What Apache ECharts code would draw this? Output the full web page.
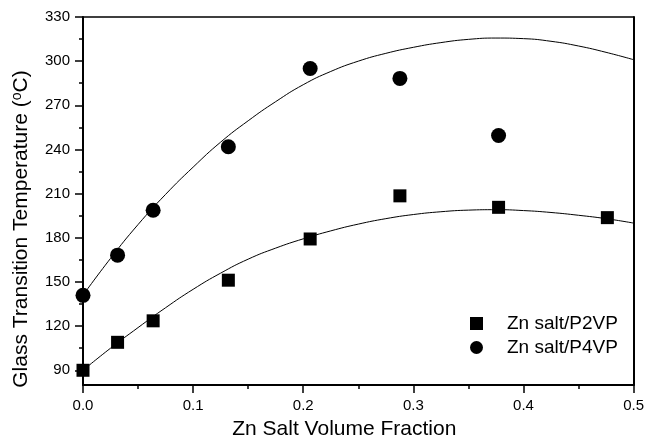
<!DOCTYPE html>
<html>
<head>
<meta charset="utf-8">
<script src="https://cdn.jsdelivr.net/npm/echarts@6/dist/echarts.min.js"></script>
<style>html,body{margin:0;padding:0;background:#fff}#c{width:647px;height:445px}</style>
</head>
<body>
<div id="c"></div>
<script>
// Measured points
const fracP2VP = [0, 0.0314, 0.0637, 0.132, 0.2063, 0.2878, 0.3774, 0.4762];
const tgP2VP = [90, 109, 123.6, 151.2, 179.2, 208.5, 200.7, 193.7];
const fracP4VP = [0, 0.0314, 0.0637, 0.132, 0.2063, 0.2878, 0.3774];
const tgP4VP = [140.9, 168.2, 198.7, 241.9, 295, 288.3, 249.5];
// Fit curves
const fitX = [0, 0.025, 0.05, 0.075, 0.1, 0.125, 0.15, 0.175, 0.2, 0.225, 0.25, 0.275, 0.3, 0.325, 0.35, 0.375, 0.4, 0.425, 0.45, 0.475, 0.5];
const fitYP2VP = [90, 105, 119, 132.5, 145, 156, 165.5, 173, 179.3, 184.7, 189.3, 193, 195.8, 197.7, 198.8, 199.1, 198.5, 197.2, 195.3, 193, 190];
const fitYP4VP = [141, 166, 189, 209.5, 228, 245, 259.5, 272.5, 284, 293, 300, 305.3, 309.4, 312.6, 314.8, 315.7, 315.3, 313.5, 310.3, 306, 301];
// Axis ticks
const yLabelValues = [90, 120, 150, 180, 210, 240, 270, 300, 330];
const yMinorValues = [105, 135, 165, 195, 225, 255, 285, 315];
const seriesNames = ['Zn salt/P2VP', 'Zn salt/P4VP'];

const zip = (xs, ys) => xs.map((x, i) => [x, ys[i]]);
const FONT = 'Liberation Sans, Arial, sans-serif';
const chart = echarts.init(document.getElementById('c'), null, {renderer: 'canvas'});
chart.setOption({
  backgroundColor: '#fff',
  animation: false,
  grid: {left: 83, right: 12, top: 17, bottom: 57},
  legend: {
    orient: 'vertical', left: 465, top: 309,
    data: [{name: seriesNames[0], icon: 'rect'}, {name: seriesNames[1], icon: 'circle'}],
    itemWidth: 13, itemHeight: 13, itemGap: 5,
    itemStyle: {color: '#000', opacity: 1},
    textStyle: {fontFamily: FONT, fontSize: 19, color: '#000', padding: [0, 0, 0, 19]}
  },
  xAxis: [{
    type: 'value', position: 'bottom', min: 0, max: 0.5, interval: 0.1,
    name: 'Zn Salt Volume Fraction', nameLocation: 'middle', nameGap: 34,
    nameTextStyle: {fontFamily: FONT, fontSize: 21, color: '#000', padding: [0, 28, 0, 0]},
    axisLine: {lineStyle: {color: '#000', width: 2}},
    axisTick: {inside: false, length: 8, lineStyle: {color: '#000', width: 1.5}},
    minorTick: {show: true, splitNumber: 2, length: 4, lineStyle: {color: '#000', width: 1.5}},
    axisLabel: {fontFamily: FONT, fontSize: 15, color: '#000', margin: 13, formatter: v => v.toFixed(1)},
    splitLine: {show: false}
  }, {
    type: 'value', position: 'top', min: 0, max: 0.5,
    axisLine: {show: true, lineStyle: {color: '#000', width: 1.5}},
    axisTick: {show: false}, axisLabel: {show: false}, splitLine: {show: false}
  }],
  yAxis: [{
    type: 'value', position: 'left', min: 80, max: 330,
    name: 'Glass Transition Temperature ({sup|o}C)', nameLocation: 'middle', nameGap: 51, nameRotate: 90,
    nameTextStyle: {fontFamily: FONT, fontSize: 21, color: '#000', padding: [0, 56, 0, 0],
      rich: {sup: {fontFamily: FONT, fontSize: 14, color: '#000', verticalAlign: 'top', padding: [0, 0, 8, 0]}}},
    axisLine: {show: true, lineStyle: {color: '#000', width: 2}},
    axisTick: {show: true, inside: false, length: 8, customValues: yLabelValues, lineStyle: {color: '#000', width: 1.5}},
    axisLabel: {fontFamily: FONT, fontSize: 15, color: '#000', margin: 13, customValues: yLabelValues},
    splitLine: {show: false}
  }, {
    type: 'value', position: 'left', min: 80, max: 330,
    axisLine: {show: false},
    axisTick: {show: true, inside: false, length: 4, customValues: yMinorValues, lineStyle: {color: '#000', width: 1.5}},
    axisLabel: {show: false}, splitLine: {show: false}
  }, {
    type: 'value', position: 'right', min: 80, max: 330,
    axisLine: {show: true, lineStyle: {color: '#000', width: 2}},
    axisTick: {show: false}, axisLabel: {show: false}, splitLine: {show: false}
  }],
  series: [
    {name: 'fitP2VP', type: 'line', data: zip(fitX, fitYP2VP), smooth: true, showSymbol: false,
     lineStyle: {color: '#000', width: 1}, silent: true, z: 1},
    {name: 'fitP4VP', type: 'line', data: zip(fitX, fitYP4VP), smooth: true, showSymbol: false,
     lineStyle: {color: '#000', width: 1}, silent: true, z: 1},
    {name: seriesNames[0], type: 'scatter', symbol: 'rect', symbolSize: 13,
     itemStyle: {color: '#000', opacity: 1}, data: zip(fracP2VP, tgP2VP), z: 3},
    {name: seriesNames[1], type: 'scatter', symbol: 'circle', symbolSize: 15,
     itemStyle: {color: '#000', opacity: 1}, data: zip(fracP4VP, tgP4VP), z: 3}
  ]
});
</script>
</body>
</html>
